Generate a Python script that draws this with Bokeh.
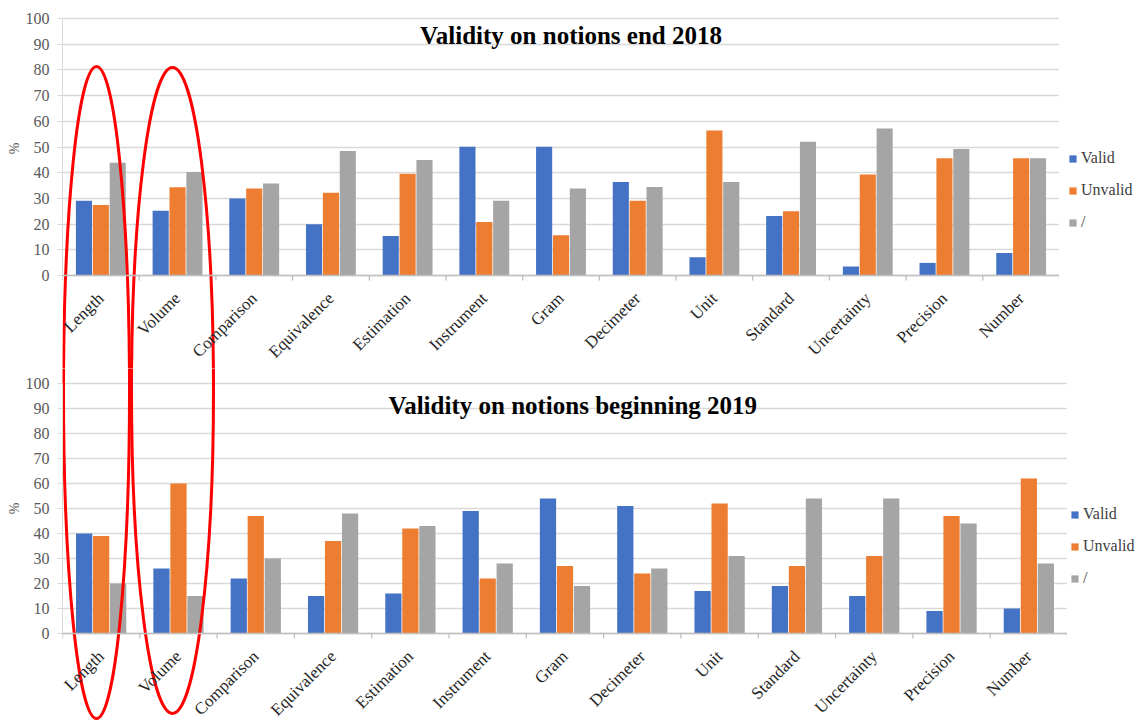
from math import pi
from bokeh.plotting import figure
from bokeh.layouts import column, row
from bokeh.models import (ColumnDataSource, FactorRange, Range1d, Legend, LegendItem,
                          Label, FixedTicker, Title)
from bokeh.transform import dodge
from bokeh.embed import file_html
from bokeh.resources import INLINE

categories = ["Length", "Volume", "Comparison", "Equivalence", "Estimation", "Instrument",
              "Gram", "Decimeter", "Unit", "Standard", "Uncertainty", "Precision", "Number"]
series_names = ["Valid", "Unvalid", "/"]

valid_2018 = [29.1, 25.2, 30.0, 19.9, 15.4, 50.1, 50.1, 36.4, 7.1, 23.2, 3.5, 4.9, 8.8]
unvalid_2018 = [27.4, 34.3, 33.9, 32.2, 39.6, 20.8, 15.7, 29.1, 56.4, 25.0, 39.3, 45.6, 45.6]
none_2018 = [43.9, 40.3, 35.8, 48.4, 44.9, 29.1, 33.9, 34.4, 36.4, 52.0, 57.2, 49.2, 45.6]

valid_2019 = [40, 26, 22, 15, 16, 49, 54, 51, 17, 19, 15, 9, 10]
unvalid_2019 = [39, 60, 47, 37, 42, 22, 27, 24, 52, 27, 31, 47, 62]
none_2019 = [20, 15, 30, 48, 43, 28, 19, 26, 31, 54, 54, 44, 28]

y_ticks = [0, 10, 20, 30, 40, 50, 60, 70, 80, 90, 100]

title_2018 = "Validity on notions end 2018"
title_2019 = "Validity on notions beginning 2019"

COLORS = ["#4472C4", "#ED7D31", "#A5A5A5"]
SERIF = "Liberation Serif"

# red hand-drawn ellipses around "Length" and "Volume" (page pixel geometry)
ELL_CX = [96, 172]
ELL_CY = [392, 390]
ELL_W = [66, 82]
ELL_H = [652, 646]

PAGE_W = 1136
LEFT = 62


def make_chart(title, valid, unvalid, none_, page_top, height, top_px, plot_px, frame_right,
               title_x, title_y, legend_dx, legend_dy, pct_top):
    ppu = plot_px / 100.0
    zero_px = top_px + plot_px           # pixel of value 0 from figure top
    y_end = 100 + top_px / ppu
    y_start = -(height - zero_px) / ppu
    frame_w = frame_right - LEFT
    cat_w = frame_w / len(categories)

    src = ColumnDataSource(dict(cat=categories, valid=valid, unvalid=unvalid, none=none_))
    p = figure(x_range=FactorRange(factors=categories, range_padding=0),
               y_range=Range1d(y_start, y_end), width=frame_right, height=height,
               output_backend="svg", toolbar_location=None,
               min_border_left=LEFT, min_border_right=0,
               min_border_top=0, min_border_bottom=0)
    p.outline_line_color = None
    p.background_fill_color = "white"
    p.border_fill_color = "white"

    for off, col, color in zip([-0.22, 0.0, 0.22], ["valid", "unvalid", "none"], COLORS):
        p.vbar(x=dodge("cat", off, range=p.x_range), top=col, width=0.21,
               source=src, fill_color=color, line_color=None)

    ticker = FixedTicker(ticks=y_ticks)
    p.yaxis.ticker = ticker
    p.ygrid.ticker = ticker
    p.ygrid.grid_line_color = "#D9D9D9"
    p.ygrid.grid_line_width = 1.3
    p.xgrid.grid_line_color = None

    p.yaxis.bounds = (0, 100)
    p.yaxis.major_label_text_font = SERIF
    p.yaxis.major_label_text_font_size = "16px"
    p.yaxis.major_label_text_color = "#595959"
    p.yaxis.major_label_standoff = 8
    p.yaxis.major_tick_out = 5
    p.yaxis.major_tick_in = 0
    p.yaxis.major_tick_line_color = "#D9D9D9"
    p.yaxis.minor_tick_line_color = None
    p.yaxis.axis_line_color = "#D9D9D9"

    p.add_layout(Title(text="%", align="right", offset=pct_top, text_font=SERIF,
                       text_font_size="14px", text_font_style="normal",
                       text_color="#595959", standoff=2), "left")

    p.xaxis.fixed_location = 0
    p.xaxis.major_label_orientation = pi / 4
    p.xaxis.major_label_text_font = SERIF
    p.xaxis.major_label_text_font_size = "17px"
    p.xaxis.major_label_text_color = "#262626"
    p.xaxis.major_label_standoff = 20
    p.xaxis.major_tick_line_color = None
    p.xaxis.major_tick_out = 0
    p.xaxis.axis_line_color = "#BFBFBF"
    p.xaxis.axis_line_width = 1.3

    # category boundary tick marks below the axis line
    bounds = list(range(len(categories) + 1))
    p.segment(x0=bounds, y0=[0] * len(bounds), x1=bounds, y1=[-5 / ppu] * len(bounds),
              line_color="#BFBFBF", line_width=1.3)

    p.add_layout(Label(x=title_x, y=title_y, text=title, text_align="center",
                       text_baseline="alphabetic", text_font=SERIF,
                       text_font_style="bold", text_font_size="25px",
                       text_color="black"))

    # ellipses converted from page pixels to this chart's data coordinates
    ex = [(cx - LEFT) / cat_w for cx in ELL_CX]
    ew = [w / cat_w for w in ELL_W]
    ey = [(page_top + zero_px - cy) / ppu for cy in ELL_CY]
    eh = [h / ppu for h in ELL_H]
    p.ellipse(x=ex, y=ey, width=ew, height=eh, fill_color=None,
              line_color="#FF0000", line_width=3)

    # legend in a narrow companion figure to the right of the plot area
    lg = figure(width=PAGE_W - frame_right, height=height, x_range=Range1d(0, 1),
                y_range=Range1d(0, 1), output_backend="svg", toolbar_location=None,
                x_axis_type=None, y_axis_type=None, min_border=0)
    lg.outline_line_color = None
    lg.grid.grid_line_color = None
    lg.background_fill_color = "white"
    lg.border_fill_color = "white"
    # legend keys: one hidden bar each (placed outside the visible range)
    keys = [lg.vbar(x=[5], top=[5], bottom=[4], width=0.1, fill_color=c, line_color=None)
            for c in COLORS]
    legend = Legend(items=[LegendItem(label=n, renderers=[r])
                           for n, r in zip(series_names, keys)],
                    location=(legend_dx, legend_dy), orientation="vertical")
    legend.border_line_color = None
    legend.background_fill_alpha = 0
    legend.padding = 0
    legend.margin = 0
    legend.spacing = 12
    legend.glyph_width = 9
    legend.glyph_height = 9
    legend.label_height = 20
    legend.label_standoff = 4
    legend.label_text_font = SERIF
    legend.label_text_font_size = "16px"
    legend.label_text_color = "#404040"
    lg.add_layout(legend)
    return row(p, lg, spacing=0)


top = make_chart(title_2018, valid_2018, unvalid_2018, none_2018,
                 page_top=0, height=368, top_px=18, plot_px=257, frame_right=1059,
                 title_x=6.63, title_y=93.2, legend_dx=9, legend_dy=136, pct_top=142)
bottom = make_chart(title_2019, valid_2019, unvalid_2019, none_2019,
                    page_top=368, height=354, top_px=15, plot_px=250, frame_right=1067,
                    title_x=6.6, title_y=91.3, legend_dx=3, legend_dy=134, pct_top=134)

layout = column(top, bottom, spacing=0)

open("out.html", "w").write(file_html(layout, INLINE))
